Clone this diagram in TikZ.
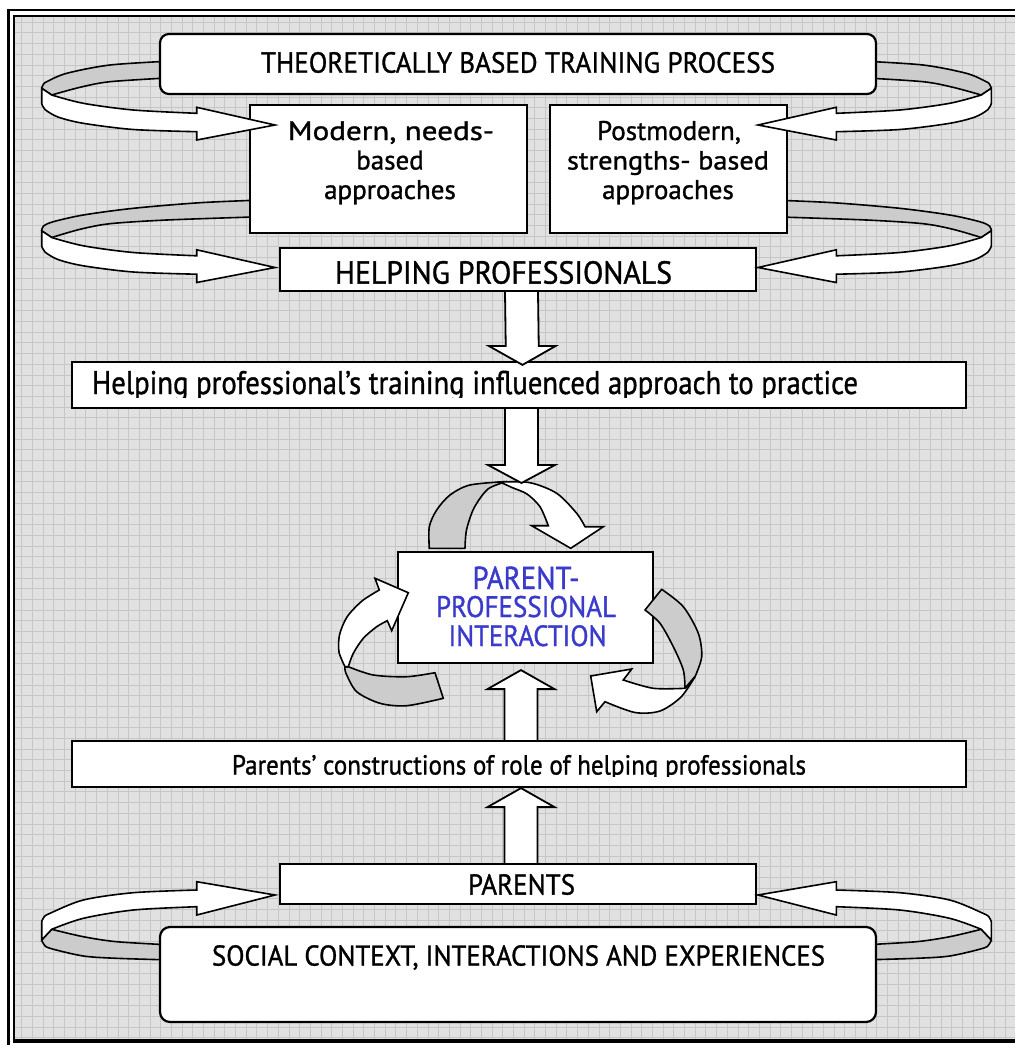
\documentclass[tikz,border=0pt]{standalone}
\usepackage{fontspec}
\setmainfont{PT Sans}[FakeBold=1.1]
\usetikzlibrary{calc}
\definecolor{gridbg}{RGB}{225,225,225}
\definecolor{gridln}{RGB}{198,198,198}
\definecolor{ribgray}{RGB}{204,204,204}
\definecolor{ppiblue}{RGB}{58,58,204}
\tikzset{
  boxst/.style={draw=black, fill=white, line width=2.2pt, inner sep=0pt},
  back/.style={draw=black, fill=ribgray, line width=1.6pt, line join=round},
  front/.style={draw=black, fill=white, line width=1.6pt, line join=miter},
  blk/.style={draw=black, fill=white, line width=1.8pt, line join=miter},
  lbl/.style={inner sep=0pt, font=\fontsize{27}{31}\selectfont},
  bluelbl/.style={lbl, text=ppiblue},
}
% text fitted to a width, then stretched vertically
\newcommand{\fitw}[3]{\scalebox{1}[#2]{\resizebox{#1pt}{!}{#3}}}
% vertical block arrow: start, tip, head length
\newcommand{\varrow}[3]{%
  \filldraw[blk] ($(#1)+(-16.5,0)$) -- ($(#2)!#3!(#1)+(-16.5,0)$) -- ($(#2)!#3!(#1)+(-33.5,0)$)
   -- (#2) -- ($(#2)!#3!(#1)+(33.5,0)$) -- ($(#2)!#3!(#1)+(16.5,0)$) -- ($(#1)+(16.5,0)$);}
% loop shapes (left side)
\newcommand{\loopOneBack}{%
  \filldraw[back] plot[smooth] coordinates {(172,61) (110,65) (66.7,73.3) (46.7,81.7) (43.3,84.5) (41.7,88.3)}
   -- (51.7,95) -- plot[smooth] coordinates {(51.7,95) (80,87.3) (110,81.7) (172,77.7)} -- cycle;}
\newcommand{\loopTwoBack}{%
  \filldraw[back] plot[smooth] coordinates {(262,200) (200,202.7) (133.3,208.3) (83.3,215) (53.3,221.7) (43.5,226) (41.7,230.8)}
   -- (51.7,237.5) -- plot[smooth] coordinates {(51.7,237.5) (80,229.3) (110,223.7) (166.7,220) (262,216.7)} -- cycle;}
\newcommand{\loopTopFront}{%
  \filldraw[front] (41.7,88.3) -- plot[smooth] coordinates {(41.7,103.3) (45,109.5) (58,117) (83.3,123.3) (133.3,129.5) (196.7,131.7)}
   -- (196.7,140) -- (275,125) -- (196.7,107.3)
   -- plot[smooth] coordinates {(196.7,113.3) (133.3,110) (83.3,103.3) (51.7,95)} -- cycle;}
\newcommand{\loopBotBack}{%
  \filldraw[back] (41.7,940) -- plot[smooth] coordinates {(41.7,940) (44,944.5) (50,948.3) (83.3,956) (116.7,958.3) (172,960)}
   -- (172,945) -- plot[smooth] coordinates {(172,945) (116.7,941.7) (83.3,936.7) (51.7,929.3)} -- cycle;}
\newcommand{\loopBotFront}{%
  \filldraw[front] (41.7,940) -- plot[smooth] coordinates {(41.7,921.7) (44,917) (50,913.3) (83.3,900) (133.3,892.7) (196.7,890)}
   -- (196.7,881.7) -- (275,895) -- (196.7,915)
   -- plot[smooth] coordinates {(196.7,906.7) (133.3,910) (83.3,918.3) (51.7,929.3)} -- cycle;}

\begin{document}
\begin{tikzpicture}[x=1pt,y=-1pt]
\useasboundingbox (0,0) rectangle (1015,1045);
% ---------- background, grid and frame ----------
\begin{scope}
  \clip (0,0) rectangle (1015,1045);
  \fill[white] (0,0) rectangle (1015,1045);
  \fill[gridbg] (14,15.5) rectangle (1030,1041);
  \foreach \i in {1,...,94} \draw[gridln, line width=0.8pt] ({11+10.69*\i},15.5) -- ({11+10.69*\i},1041);
  \foreach \j in {1,...,96} \draw[gridln, line width=0.8pt] (14,{11.5+10.69*\j}) -- (1030,{11.5+10.69*\j});
  \draw[line width=2.5pt] (8.5,1060) -- (8.5,10) -- (1030,10);
  \draw[line width=2pt] (14,1041) -- (14,15.5) -- (1030,15.5);
  \draw[line width=3.5pt] (12.5,1041) -- (1030,1041);
\end{scope}

% ---------- back (gray) parts of the loops ----------
\loopOneBack
\loopTwoBack
\loopBotBack
\begin{scope}[shift={(1033,0)}, xscale=-1]
  \loopOneBack
  \loopTwoBack
  \loopBotBack
\end{scope}

% ---------- boxes ----------
\node[boxst, rounded corners=9pt, minimum width=716pt, minimum height=60pt] (tbtp) at (518,64) {};
\node[boxst, minimum width=277pt, minimum height=128pt] (modern) at (388.5,169) {};
\node[boxst, minimum width=237pt, minimum height=128pt] (postmod) at (668.5,169) {};
\node[boxst, minimum width=476pt, minimum height=43pt] (hp) at (518,269.5) {};
\node[boxst, minimum width=894pt, minimum height=46pt] (train) at (519,385) {};
\node[boxst, minimum width=255pt, minimum height=111pt] (ppi) at (525.5,607.5) {};
\node[boxst, minimum width=894pt, minimum height=46pt] (pcon) at (519,764) {};
\node[boxst, minimum width=476pt, minimum height=40pt] (parents) at (518,884) {};
\node[boxst, rounded corners=10pt, minimum width=716pt, minimum height=95pt] (social) at (518,974.5) {};

% ---------- front (white) parts of the loops ----------
\loopTopFront
\begin{scope}[shift={(0,142.5)}]\loopTopFront\end{scope}
\loopBotFront
\begin{scope}[shift={(1033,0)}, xscale=-1]
  \loopTopFront
  \begin{scope}[shift={(0,142.5)}]\loopTopFront\end{scope}
  \loopBotFront
\end{scope}

% ---------- labels ----------
\node[lbl] (tbtpT) at (518,62.5) {\fitw{514}{1.07}{THEORETICALLY BASED TRAINING PROCESS}};
\node[lbl, anchor=base] (modernT1) at (391,140) {\fitw{206}{0.86}{Modern, needs-}};
\node[lbl, anchor=base] (modernT2) at (390,169.5) {based};
\node[lbl, anchor=base] (modernT3) at (390,199) {approaches};
\node[lbl, anchor=base] (postT1) at (669,140) {Postmodern,};
\node[lbl, anchor=base] (postT2) at (668,169.5) {\fitw{202}{0.93}{strengths- based}};
\node[lbl, anchor=base] (postT3) at (668,199) {approaches};
\node[lbl] (hpT) at (503.5,272.5) {\fitw{337}{1.07}{HELPING PROFESSIONALS}};
\begin{scope}
  \clip (73,363) rectangle (965,397);
  \node[lbl, anchor=base] (trainT) at (475,394) {\fitw{766}{1.14}{Helping professional’s training influenced approach to practice}};
\end{scope}
\node[bluelbl, anchor=base] (ppiT1) at (526,589) {\fitw{107}{1.1}{PARENT-}};
\node[bluelbl, anchor=base] (ppiT2) at (526,617) {\fitw{180}{1.1}{PROFESSIONAL}};
\node[bluelbl, anchor=base] (ppiT3) at (527.5,646) {\fitw{158}{1.1}{INTERACTION}};
\begin{scope}
  \clip (73,742) rectangle (965,776);
  \node[lbl, anchor=base] (pconT) at (519,774.5) {\fitw{574}{1.1}{Parents’ constructions of role of helping professionals}};
\end{scope}
\node[lbl] (parentsT) at (521.5,884.5) {\fitw{107}{1.07}{PARENTS}};
\node[lbl] (socialT) at (518.5,957.5) {\fitw{613}{1.07}{SOCIAL CONTEXT, INTERACTIONS AND EXPERIENCES}};

% ---------- straight block arrows ----------
\coordinate (a1s) at ($(hp.south)+(3.5,0)$);
\coordinate (a1t) at ($(train.north)+(3.5,4)$);
\varrow{a1s}{a1t}{19pt}
\coordinate (a4s) at ($(parents.north)+(3,0)$);
\coordinate (a4t) at ($(pcon.south)+(2,0)$);
\varrow{a4s}{a4t}{19pt}
\coordinate (a3s) at ($(pcon.north)+(2,0)$);
\coordinate (a3t) at ($(ppi.south)+(-4.5,6)$);
\varrow{a3s}{a3t}{19pt}

% ---------- circular arrows around the interaction box ----------
% top arc
\filldraw[back] plot[smooth] coordinates {(429.3,548.3) (429.3,526.7) (436.7,510) (450,495) (470,485) (507,481.5)}
  -- plot[smooth] coordinates {(507,481.5) (488,489) (474,508) (466.5,530) (465,548.3)} -- cycle;
\filldraw[front] plot[smooth] coordinates {(500,482) (530,482.7) (556.7,493.3) (576.7,513.3) (585,526.7)}
  -- (603.3,526.7) -- (570.7,548.3) -- (531.7,525.7) -- (548.3,525.7)
  -- plot[smooth] coordinates {(548.3,525.7) (540,506.7) (527,494) (512,487.5) (500,482)} -- cycle;
% left arc
\filldraw[back] plot[smooth] coordinates {(345,666.7) (346,673.3) (356.7,691.7) (380,703.3) (406.7,705.7) (443.3,698.3)}
  -- (435,672.7) -- plot[smooth] coordinates {(435,672.7) (406.7,676.7) (373.3,675) (348.3,666.7)} -- cycle;
\filldraw[front] plot[smooth] coordinates {(345,666.7) (339,652) (339.5,635) (347,617) (362,601) (379.3,590)}
  -- (375,578.3) -- (408.3,592.7) -- (391.7,630.7) -- (387.3,620.7)
  -- plot[smooth] coordinates {(387.3,620.7) (376.7,626.7) (363.3,638.3) (353.3,653.3) (348.3,666.7)} -- cycle;
% right arc
\filldraw[back] (645,610) -- (661.7,589.3)
  -- plot[smooth] coordinates {(661.7,589.3) (683.3,606.7) (698.3,633.3) (701.7,656.7) (695,676.7)}
  -- (685,688.3) -- plot[smooth] coordinates {(685,688.3) (683.3,670) (673.3,646.7) (660,623.3) (645,610)} -- cycle;
\filldraw[front] plot[smooth] coordinates {(695,676.7) (681,697) (660,711) (635,712.5) (605,701.7)}
  -- (596.7,711.7) -- (590.7,676) -- (631.7,669) -- (623.3,680)
  -- plot[smooth] coordinates {(623.3,680) (653.3,688.3) (685,688.3)} -- cycle;

% arrow from the training box to the cycle
\coordinate (a2s) at ($(train.south)+(2.5,0)$);
\coordinate (a2t) at (521.5,483);
\varrow{a2s}{a2t}{18pt}
\end{tikzpicture}
\end{document}
